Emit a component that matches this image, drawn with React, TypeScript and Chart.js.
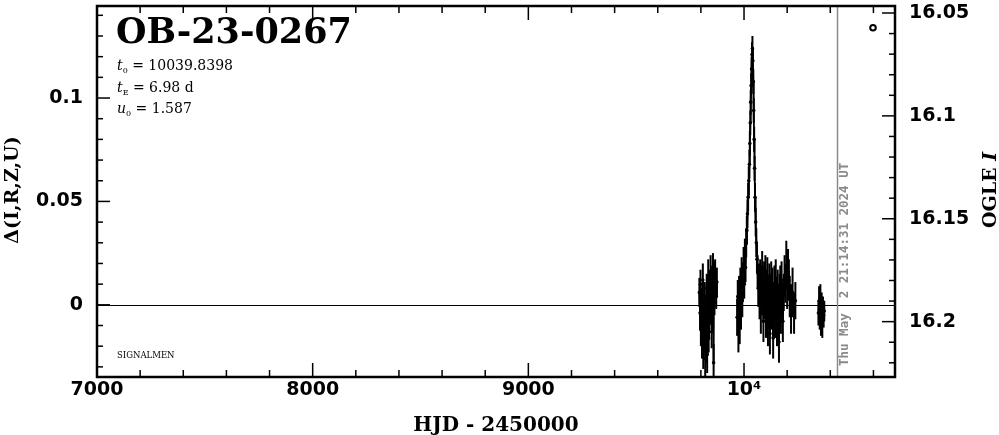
import React, { useEffect, useRef } from "react";
import { Chart, registerables } from "chart.js";

Chart.register(...registerables);

// ---------- text ----------
const EVENT_NAME = "OB-23-0267";
const T0_TEXT = " = 10039.8398";
const TE_TEXT = " = 6.98 d";
const U0_TEXT = " = 1.587";
const TEAM_TEXT = "SIGNALMEN";
const TIMESTAMP = "Thu May  2 21:14:31 2024 UT";
const TIMESTAMP_HJD = 10433.4;
const X_TITLE = "HJD - 2450000";
const Y_TITLE = "Δ(I,R,Z,U)";
const Y2_TITLE_MAIN = "OGLE ";
const Y2_TITLE_ITALIC = "I";

// ---------- axes ----------
const X_MIN = 7000;
const X_MAX = 10700;
const Y_MIN = -0.0349;
const Y_MAX = 0.1445;
const MAG_MIN = 16.0466;
const MAG_MAX = 16.2269;
const xTicks = [7000, 8000, 9000, 10000];
const xTickLabels = ["7000", "8000", "9000", "10⁴"];
const yTicks = [0, 0.05, 0.1];
const yTickLabels = ["0", "0.05", "0.1"];
const magTicks = [16.05, 16.1, 16.15, 16.2];
const magTickLabels = ["16.05", "16.1", "16.15", "16.2"];

// ---------- data ----------
const season1Hjd = [9793, 9796, 9798, 9800, 9802, 9805, 9807, 9809, 9811, 9814, 9816, 9818, 9820, 9823, 9825, 9827, 9829, 9832, 9834, 9836, 9838, 9841, 9843, 9845, 9847, 9850, 9852, 9854, 9856, 9859, 9861, 9863, 9866, 9868, 9871, 9874];
const season1Delta = [0.006, -0.004, 0.010, -0.012, 0.002, -0.018, -0.008, 0.012, -0.022, -0.006, -0.015, 0.004, -0.026, -0.012, -0.020, 0.008, -0.024, -0.004, 0.014, -0.016, -0.009, 0.010, -0.002, 0.016, 0.004, -0.013, 0.012, 0.002, 0.018, -0.028, 0.013, 0.001, 0.015, 0.009, 0.004, 0.011];
const season1Err = [0.007, 0.008, 0.007, 0.008, 0.006, 0.008, 0.007, 0.008, 0.009, 0.007, 0.008, 0.007, 0.009, 0.008, 0.008, 0.007, 0.009, 0.007, 0.008, 0.007, 0.008, 0.007, 0.007, 0.008, 0.007, 0.008, 0.007, 0.006, 0.007, 0.009, 0.008, 0.006, 0.007, 0.006, 0.006, 0.007];

const season2Hjd = [9968, 9971, 9974, 9977, 9980, 9983, 9986, 9989, 9992, 9995, 9998, 10001, 10004, 10007, 10010, 10013, 10016, 10019, 10022, 10025, 10027, 10029, 10031, 10033, 10035, 10037, 10039, 10041, 10043, 10045, 10047, 10049, 10051, 10054, 10057, 10060,
  10063, 10066, 10069, 10072, 10075, 10078, 10081, 10084, 10087, 10090, 10093, 10096, 10099, 10102, 10105, 10108, 10111, 10114, 10117, 10120, 10123, 10126, 10129, 10132, 10135, 10138, 10141, 10144, 10147, 10150, 10153, 10156, 10159, 10162, 10165, 10168, 10171, 10174, 10177, 10180, 10184, 10188, 10192, 10196, 10200, 10204, 10208, 10212, 10218, 10225, 10232, 10238];
const season2Delta = [-0.006, 0.004, -0.014, 0.006, -0.010, 0.010, -0.004, 0.014, 0.002, 0.012, 0.020, 0.010, 0.024, 0.018, 0.030, 0.036, 0.044, 0.052, 0.060, 0.068, 0.078, 0.088, 0.098, 0.106, 0.114, 0.121, 0.124, 0.118, 0.108, 0.094, 0.080, 0.066, 0.052, 0.040, 0.030, 0.022,
  0.016, 0.008, 0.012, 0.002, 0.014, -0.004, 0.010, 0.018, 0.004, -0.008, 0.012, 0.002, 0.016, -0.006, 0.008, 0.014, -0.010, 0.004, 0.011, -0.014, 0.006, 0.012, -0.002, 0.009, -0.016, 0.002, 0.010, -0.006, 0.013, 0.004, -0.010, 0.008, 0.001, -0.018, 0.006, 0.010, -0.004, 0.012, 0.002, -0.008, 0.006, 0.014, 0.010, 0.019, 0.008, 0.016, 0.012, 0.004, -0.002, 0.006, -0.004, 0.002];
const season2Err = [0.009, 0.008, 0.009, 0.008, 0.009, 0.008, 0.008, 0.009, 0.008, 0.008, 0.008, 0.007, 0.008, 0.007, 0.007, 0.007, 0.007, 0.007, 0.007, 0.007, 0.006, 0.006, 0.006, 0.006, 0.006, 0.006, 0.006, 0.006, 0.006, 0.006, 0.006, 0.006, 0.007, 0.007, 0.007, 0.007,
  0.008, 0.009, 0.008, 0.009, 0.008, 0.010, 0.009, 0.008, 0.009, 0.010, 0.009, 0.009, 0.008, 0.010, 0.009, 0.009, 0.010, 0.009, 0.009, 0.010, 0.009, 0.009, 0.010, 0.009, 0.010, 0.009, 0.009, 0.010, 0.009, 0.009, 0.010, 0.009, 0.009, 0.010, 0.009, 0.009, 0.010, 0.009, 0.009, 0.010, 0.009, 0.010, 0.009, 0.012, 0.010, 0.011, 0.010, 0.010, 0.012, 0.012, 0.010, 0.009];

const season3Hjd = [10345, 10348, 10351, 10354, 10357, 10360, 10363, 10366, 10369, 10372];
const season3Delta = [-0.004, 0.002, -0.006, 0.004, -0.008, 0.000, -0.010, -0.002, -0.005, -0.003];
const season3Err = [0.006, 0.007, 0.006, 0.006, 0.007, 0.006, 0.006, 0.006, 0.006, 0.005];

const markerHjd = [10598];
const markerDelta = [0.134];

type Pt = { x: number; y: number | null; e?: number };

function buildPoints(): Pt[] {
  const seasons = [
    [season1Hjd, season1Delta, season1Err],
    [season2Hjd, season2Delta, season2Err],
    [season3Hjd, season3Delta, season3Err],
  ];
  const out: Pt[] = [];
  seasons.forEach(([h, d, e], si) => {
    if (si > 0) out.push({ x: (h[0] + out[out.length - 1].x) / 2, y: null });
    h.forEach((hv, i) => out.push({ x: hv, y: d[i], e: e[i] }));
  });
  return out;
}

const LABEL_FONT = "DejaVu Sans";
const SERIF = "DejaVu Serif";

const decorPlugin = {
  id: "decor",
  beforeDatasetsDraw(chart: any) {
    const { ctx, chartArea: a, scales } = chart;
    ctx.save();
    const y0 = Math.round(scales.y.getPixelForValue(0)) + 0.5;
    ctx.strokeStyle = "#000";
    ctx.lineWidth = 1;
    ctx.beginPath();
    ctx.moveTo(a.left, y0);
    ctx.lineTo(a.right, y0);
    ctx.stroke();
    const xt = scales.x.getPixelForValue(TIMESTAMP_HJD);
    ctx.strokeStyle = "#8a8a8a";
    ctx.lineWidth = 1.5;
    ctx.beginPath();
    ctx.moveTo(xt, a.top);
    ctx.lineTo(xt, a.bottom);
    ctx.stroke();
    ctx.translate(xt + 7.5, 366);
    ctx.rotate(-Math.PI / 2);
    ctx.fillStyle = "#8a8a8a";
    ctx.font = "bold 12.5px 'DejaVu Sans Mono'";
    ctx.textAlign = "left";
    ctx.textBaseline = "middle";
    ctx.fillText(TIMESTAMP, 0, 0);
    ctx.restore();
  },
  afterDatasetsDraw(chart: any) {
    const { ctx, chartArea: a, scales } = chart;
    ctx.save();
    ctx.beginPath();
    ctx.rect(a.left, a.top, a.right - a.left, a.bottom - a.top);
    ctx.clip();
    ctx.strokeStyle = "#000";
    ctx.lineWidth = 2;
    const ds = chart.data.datasets[0];
    ds.data.forEach((p: Pt) => {
      if (p.y == null || p.e == null) return;
      const px = scales.x.getPixelForValue(p.x);
      const top = scales.y.getPixelForValue(p.y + p.e);
      const bot = scales.y.getPixelForValue(p.y - p.e);
      ctx.beginPath();
      ctx.moveTo(px, top);
      ctx.lineTo(px, bot);
      ctx.stroke();
    });
    ctx.restore();
  },
  afterDraw(chart: any) {
    const { ctx, chartArea: a, scales } = chart;
    ctx.save();
    ctx.strokeStyle = "#000";
    ctx.lineWidth = 1.5;
    const eps = 1e-6;
    for (let v = 7000; v <= X_MAX + eps; v += 200) {
      const px = scales.x.getPixelForValue(v);
      const major = Math.abs(v % 1000) < eps;
      const len = major ? 14 : 7;
      ctx.beginPath();
      ctx.moveTo(px, a.bottom);
      ctx.lineTo(px, a.bottom - len);
      ctx.moveTo(px, a.top);
      ctx.lineTo(px, a.top + len);
      ctx.stroke();
    }
    for (let k = -3; k <= 14; k++) {
      const v = k / 100;
      const py = scales.y.getPixelForValue(v);
      const major = k % 5 === 0;
      const len = major ? 13 : 6;
      ctx.beginPath();
      ctx.moveTo(a.left, py);
      ctx.lineTo(a.left + len, py);
      ctx.stroke();
    }
    for (let k = 1605; k <= 1622; k++) {
      const v = k / 100;
      const py = scales.y2.getPixelForValue(v);
      const major = k % 5 === 0;
      const len = major ? 13 : 6;
      ctx.beginPath();
      ctx.moveTo(a.right, py);
      ctx.lineTo(a.right - len, py);
      ctx.stroke();
    }
    ctx.lineWidth = 2.5;
    ctx.strokeRect(a.left, a.top, a.right - a.left, a.bottom - a.top);

    ctx.fillStyle = "#000";
    ctx.textAlign = "left";
    ctx.textBaseline = "alphabetic";
    ctx.font = `bold 35px '${SERIF}'`;
    ctx.fillText(EVENT_NAME, a.left + 19, 43);

    const drawParam = (sym: string, sub: string, rest: string, y: number) => {
      let x = a.left + 20;
      ctx.font = `italic 14px '${SERIF}'`;
      ctx.fillText(sym, x, y);
      x += ctx.measureText(sym).width;
      ctx.font = `8px '${SERIF}'`;
      ctx.fillText(sub, x, y + 3);
      x += ctx.measureText(sub).width;
      ctx.font = `14px '${SERIF}'`;
      ctx.fillText(rest, x, y);
    };
    drawParam("t", "0", T0_TEXT, 70);
    drawParam("t", "E", TE_TEXT, 92);
    drawParam("u", "0", U0_TEXT, 113);

    ctx.font = `8.5px '${SERIF}'`;
    ctx.fillText(TEAM_TEXT, a.left + 20, 358);

    ctx.textAlign = "center";
    ctx.font = `bold 20px '${SERIF}'`;
    ctx.fillText(X_TITLE, (a.left + a.right) / 2, 431);

    ctx.save();
    ctx.translate(13, 190);
    ctx.rotate(-Math.PI / 2);
    ctx.textAlign = "center";
    ctx.textBaseline = "middle";
    ctx.font = `bold 19px '${SERIF}'`;
    ctx.fillText(Y_TITLE, 0, 0);
    ctx.restore();

    ctx.save();
    ctx.translate(991, 190);
    ctx.rotate(-Math.PI / 2);
    ctx.textBaseline = "middle";
    ctx.textAlign = "left";
    ctx.font = `bold 19px '${SERIF}'`;
    const w1 = ctx.measureText(Y2_TITLE_MAIN).width;
    ctx.font = `bold italic 19px '${SERIF}'`;
    const w2 = ctx.measureText(Y2_TITLE_ITALIC).width;
    const start = -(w1 + w2) / 2;
    ctx.font = `bold 19px '${SERIF}'`;
    ctx.fillText(Y2_TITLE_MAIN, start, 0);
    ctx.font = `bold italic 19px '${SERIF}'`;
    ctx.fillText(Y2_TITLE_ITALIC, start + w1, 0);
    ctx.restore();

    ctx.restore();
  },
};

export default function App() {
  const ref = useRef<HTMLCanvasElement | null>(null);
  useEffect(() => {
    document.body.style.margin = "0";
    const canvas = ref.current;
    if (!canvas) return;
    const tickFont = { family: LABEL_FONT, weight: "bold" as const, size: 19 };
    const noPad = (s: any) => {
      s.paddingTop = 0;
      s.paddingBottom = 0;
      s.paddingLeft = 0;
      s.paddingRight = 0;
    };
    const chart = new Chart(canvas, {
      type: "line",
      data: {
        datasets: [
          {
            data: buildPoints() as any,
            borderColor: "#000",
            backgroundColor: "#000",
            borderWidth: 1.8,
            pointRadius: 1.8,
            pointHoverRadius: 1.8,
            pointBackgroundColor: "#000",
            pointBorderWidth: 0,
            tension: 0,
            spanGaps: false,
            yAxisID: "y",
          },
          {
            type: "scatter" as any,
            data: markerHjd.map((h, i) => ({ x: h, y: markerDelta[i] })),
            borderColor: "#000",
            backgroundColor: "#fff",
            borderWidth: 2,
            pointRadius: 2.8,
            showLine: false,
            yAxisID: "y",
          },
        ],
      },
      options: {
        animation: false,
        responsive: false,
        devicePixelRatio: 1,
        layout: { padding: { top: 2, left: 0, right: 0, bottom: 0 } },
        plugins: { legend: { display: false }, tooltip: { enabled: false } },
        events: [],
        scales: {
          x: {
            type: "linear",
            position: "bottom",
            min: X_MIN,
            max: X_MAX,
            afterBuildTicks: (s: any) => {
              s.ticks = xTicks.map((v) => ({ value: v }));
            },
            afterFit: (s: any) => {
              s.height = 58;
              noPad(s);
            },
            grid: { display: false, drawTicks: false },
            border: { display: false },
            ticks: {
              autoSkip: false,
              maxRotation: 0,
              minRotation: 0,
              padding: 2,
              color: "#000",
              font: tickFont,
              callback: (_v: any, i: number) => xTickLabels[i],
            },
          },
          y: {
            type: "linear",
            position: "left",
            min: Y_MIN,
            max: Y_MAX,
            afterBuildTicks: (s: any) => {
              s.ticks = yTicks.map((v) => ({ value: v }));
            },
            afterFit: (s: any) => {
              s.width = 97;
              noPad(s);
            },
            grid: { display: false, drawTicks: false },
            border: { display: false },
            ticks: {
              autoSkip: false,
              padding: 14,
              color: "#000",
              font: tickFont,
              callback: (_v: any, i: number) => yTickLabels[i],
            },
          },
          y2: {
            type: "linear",
            position: "right",
            reverse: true,
            min: MAG_MIN,
            max: MAG_MAX,
            afterBuildTicks: (s: any) => {
              s.ticks = magTicks.map((v) => ({ value: v }));
            },
            afterFit: (s: any) => {
              s.width = 104;
              noPad(s);
            },
            grid: { display: false, drawTicks: false },
            border: { display: false },
            ticks: {
              autoSkip: false,
              padding: 14,
              color: "#000",
              font: tickFont,
              callback: (_v: any, i: number) => magTickLabels[i],
            },
          },
        },
      },
      plugins: [decorPlugin],
    });
    return () => chart.destroy();
  }, []);
  return (
    <div style={{ width: 999, height: 435, background: "#fff" }}>
      <canvas ref={ref} width={999} height={435} style={{ display: "block" }} />
    </div>
  );
}
